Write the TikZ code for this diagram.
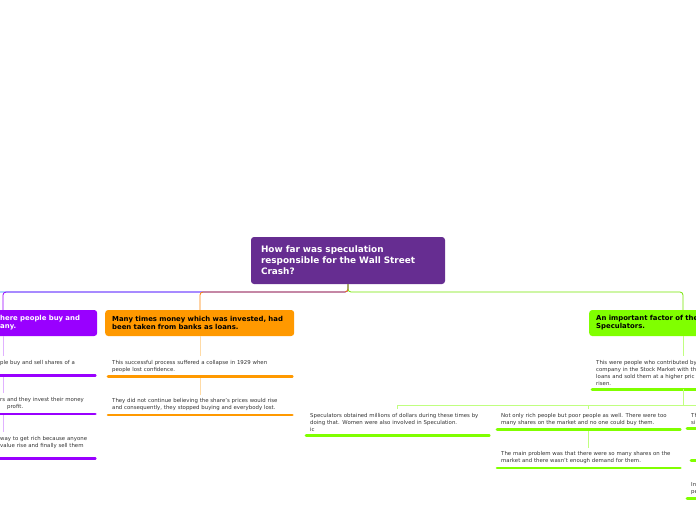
\documentclass[tikz,border=0pt]{standalone}
\usepackage{fontspec}
\setmainfont{DejaVu Sans}
\usetikzlibrary{calc, positioning}
\definecolor{rootpurple}{HTML}{662D91}
\definecolor{mviolet}{HTML}{9900FF}
\definecolor{morange}{HTML}{FF9900}
\definecolor{mgreen}{HTML}{80FF00}
\definecolor{mblue}{HTML}{1A8CFF}

\begin{document}
\begin{tikzpicture}[x=1pt, y=-1pt,
    every node/.style={font=\fontsize{5.4}{6.9}\selectfont},
    rootbox/.style={fill=rootpurple, text=white, rounded corners=3pt, align=left,
      text width=174pt, inner xsep=10pt, minimum height=47pt,
      font=\bfseries\fontsize{8.9}{11}\selectfont},
    topic/.style={rounded corners=3pt, align=left, inner xsep=7pt, minimum height=26pt,
      anchor=west, font=\bfseries\fontsize{6.9}{8}\selectfont},
    leaf/.style={anchor=north west, align=left, inner xsep=4pt, inner ysep=4pt, text=black!80},
    link/.style={line width=0.8pt, rounded corners=3pt},
    twig/.style={line width=0.8pt},
    uline/.style={line width=2.6pt, line cap=round},
  ]
  \useasboundingbox (0,0) rectangle (696,520);
  \clip (0,0) rectangle (696,520);

  \node[rootbox] (root) at (348,260.5) {How far was speculation\\responsible for the Wall Street\\Crash?};

  \node[topic, fill=mviolet, text=white, text width=90pt] (pnode) at (-7,323) {here people buy and\\any.};
  \node[topic, fill=morange, text width=175pt] (onode) at (105,323) {Many times money which was invested, had\\been taken from banks as loans.};
  \node[topic, fill=mgreen, text width=200pt] (gnode) at (589,323) {An important factor of the\\Speculators.};

  \coordinate (bstem) at (-30,292);
  \coordinate (pstem) at (3,292);
  \coordinate (ostem) at (200,292);
  \coordinate (gstem) at (683,292);

  % main branches
  \draw[link, mblue] (root.south) |- (bstem);
  \draw[link, mviolet] (root.south) |- (pstem) -- (pstem |- pnode.north);
  \draw[link, morange!85!red] (root.south) |- (ostem) -- (ostem |- onode.north);
  \draw[link, mgreen!90!black] (root.south) |- (gstem) -- (gstem |- gnode.north);

  % violet leaves
  \node[leaf, text width=91pt] (pc1) at (-4,356) {ple buy and sell shares of a\\\mbox{}};
  \node[leaf, text width=91pt, below=18pt of pc1] (pc2) {rs and they invest their money\\\hspace*{7pt}profit.};
  \node[leaf, text width=91pt, below=18pt of pc2] (pc3) {way to get rich because anyone\\value rise and finally sell them\\\mbox{}};
  \draw[twig, mviolet!30] (pstem |- pnode.south) -- (pstem |- pc1.north);
  \draw[twig, mviolet!30] (pstem |- pc1.south) -- (pstem |- pc2.north);
  \draw[twig, mviolet!30] (pstem |- pc2.south) -- (pstem |- pc3.north);
  \foreach \k in {pc1,pc2,pc3}
    \draw[uline, mviolet] (\k.south west) -- (\k.south east);

  % orange leaves
  \node[leaf, text width=176pt] (oc1) at (108,356) {This successful process suffered a collapse in 1929 when\\people lost confidence.};
  \node[leaf, text width=176pt, below=18pt of oc1] (oc2) {They did not continue believing the share's prices would rise\\and consequently, they stopped buying and everybody lost.};
  \draw[twig, morange!35] (oc1.north |- onode.south) -- (oc1.north);
  \draw[twig, morange!35] (oc1.south) -- (oc2.north);
  \foreach \k in {oc1,oc2}
    \draw[uline, morange] (\k.south west) -- (\k.south east);

  % green leaves
  \node[leaf, text width=200pt] (gc1) at (592,356) {This were people who contributed by\\company in the Stock Market with th\\loans and sold them at a higher pric\\risen.};
  \draw[twig, mgreen!50] (gstem |- gnode.south) -- (gstem |- gc1.north);
  \draw[uline, mgreen] (gc1.south west) -- (gc1.south east);

  \coordinate (gfork) at (683,405);
  \coordinate (gright) at (710,405);
  \node[leaf, text width=175pt] (gd1) at (306,409) {Speculators obtained millions of dollars during these times by\\doing that. Women were also involved in Speculation.\\ic};
  \node[leaf, text width=175pt] (gd2) at (497,409) {Not only rich people but poor people as well. There were too\\many shares on the market and no one could buy them.};
  \node[leaf, text width=175pt, below=18pt of gd2] (gd3) {The main problem was that there were so many shares on the\\market and there wasn't enough demand for them.};
  \node[leaf, text width=100pt] (gd4) at (687,409) {Th\\si};
  \node[leaf, text width=100pt, minimum height=19pt] (gd5) at (691,441) {};
  \node[leaf, text width=100pt] (gd6) at (687,478) {In\\pe};
  \draw[twig, mgreen!50] (gstem |- gc1.south) -- (gfork) -| (gd1.north);
  \draw[twig, mgreen!50] (gfork) -| (gd2.north);
  \draw[twig, mgreen!50] (gfork) -- (gright);
  \draw[twig, mgreen!50] (gd2.south) -- (gd3.north);
  \foreach \k in {gd1,gd2,gd3,gd4,gd5,gd6}
    \draw[uline, mgreen] (\k.south west) -- (\k.south east);
\end{tikzpicture}
\end{document}
